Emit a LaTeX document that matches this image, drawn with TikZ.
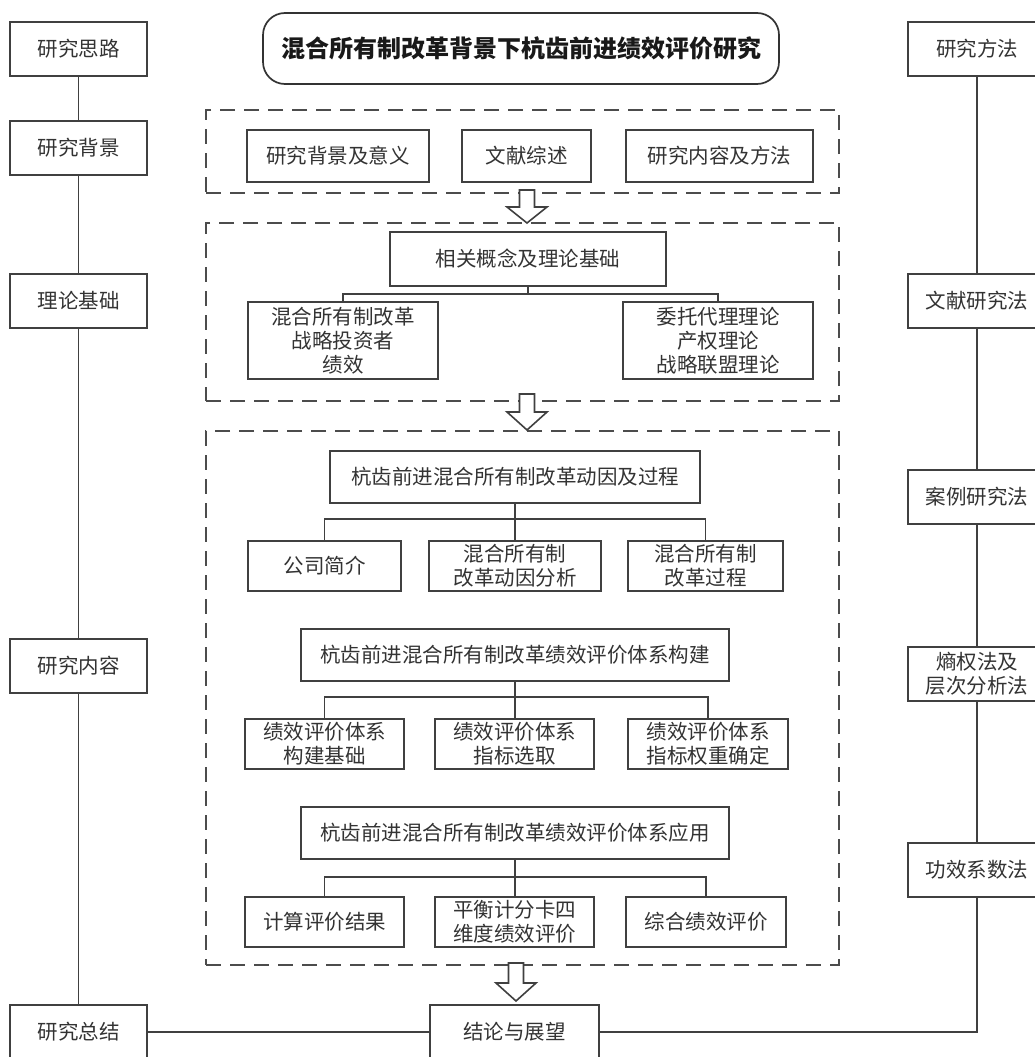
\documentclass[tikz,border=0pt]{standalone}
\usepackage{fontspec}
\setmainfont{Noto Sans CJK SC}
\begin{document}
\begin{tikzpicture}[x=1pt,y=-1pt,
  box/.style={draw=black!75,line width=1.7pt,fill=white,text=black!80,align=center,inner sep=0pt,
    font=\fontsize{20.5}{24}\selectfont},
  titlebox/.style={draw=black!80,line width=1.7pt,fill=white,rounded corners=22pt,inner sep=0pt,
    font=\fontsize{24}{28}\selectfont\bfseries,text=black!90},
  dashbox/.style={draw=black!70,line width=1.7pt,dash pattern=on 15pt off 9pt,inner sep=0pt},
  conn/.style={draw=black!75,line width=1.6pt},
  blockarr/.style={draw=black!75,line width=1.6pt,fill=white,line join=miter}]
\useasboundingbox (0,0) rectangle (1035,1057);
\clip (0,0) rectangle (1035,1057);
\fill[white] (0,0) rectangle (1035,1057);

% title
\node[titlebox,minimum width=516pt,minimum height=71pt] (T) at (521,48.5) {混合所有制改革背景下杭齿前进绩效评价研究};

% dashed groups
\node[dashbox,minimum width=633pt,minimum height=83pt] (D1) at (522.5,151.5) {};
\node[dashbox,minimum width=633pt,minimum height=178pt] (D2) at (522.5,312) {};
\node[dashbox,minimum width=633pt,minimum height=534pt] (D3) at (522.5,698) {};

% left column
\node[box,minimum width=137pt,minimum height=54pt] (L1) at (78.5,49) {研究思路};
\node[box,minimum width=137pt,minimum height=54pt] (L2) at (78.5,148) {研究背景};
\node[box,minimum width=137pt,minimum height=54pt] (L3) at (78.5,301) {理论基础};
\node[box,minimum width=137pt,minimum height=54pt] (L4) at (78.5,666) {研究内容};
\node[box,minimum width=137pt,minimum height=54pt] (L5) at (78.5,1032) {研究总结};

% right column
\node[box,minimum width=138pt,minimum height=54pt] (R1) at (977,49) {研究方法};
\node[box,minimum width=138pt,minimum height=54pt] (R2) at (977,301) {文献研究法};
\node[box,minimum width=138pt,minimum height=54pt] (R3) at (977,497) {案例研究法};
\node[box,minimum width=138pt,minimum height=54pt] (R4) at (977,674) {熵权法及\\层次分析法};
\node[box,minimum width=138pt,minimum height=54pt] (R5) at (977,870) {功效系数法};

% group 1
\node[box,minimum width=182pt,minimum height=52pt] (B1) at (338,156) {研究背景及意义};
\node[box,minimum width=129pt,minimum height=52pt] (B2) at (526.5,156) {文献综述};
\node[box,minimum width=187pt,minimum height=52pt] (B3) at (719.5,156) {研究内容及方法};

% group 2
\node[box,minimum width=276pt,minimum height=54pt] (C0) at (528,259) {相关概念及理论基础};
\node[box,minimum width=190pt,minimum height=77pt] (C1) at (343,340.5) {混合所有制改革\\战略投资者\\绩效};
\node[box,minimum width=190pt,minimum height=77pt] (C2) at (718,340.5) {委托代理理论\\产权理论\\战略联盟理论};

% group 3
\node[box,minimum width=370pt,minimum height=52pt] (P0) at (515,477) {杭齿前进混合所有制改革动因及过程};
\node[box,minimum width=153pt,minimum height=50pt] (P1) at (324.5,566) {公司简介};
\node[box,minimum width=172pt,minimum height=50pt] (P2) at (515,566) {混合所有制\\改革动因分析};
\node[box,minimum width=155pt,minimum height=50pt] (P3) at (705.5,566) {混合所有制\\改革过程};

\node[box,minimum width=428pt,minimum height=52pt] (Q0) at (515,655) {杭齿前进混合所有制改革绩效评价体系构建};
\node[box,minimum width=159pt,minimum height=50pt] (Q1) at (324.5,744) {绩效评价体系\\构建基础};
\node[box,minimum width=159pt,minimum height=50pt] (Q2) at (514.5,744) {绩效评价体系\\指标选取};
\node[box,minimum width=160pt,minimum height=50pt] (Q3) at (708,744) {绩效评价体系\\指标权重确定};

\node[box,minimum width=428pt,minimum height=52pt] (S0) at (515,833) {杭齿前进混合所有制改革绩效评价体系应用};
\node[box,minimum width=159pt,minimum height=50pt] (S1) at (324.5,922) {计算评价结果};
\node[box,minimum width=159pt,minimum height=50pt] (S2) at (514.5,922) {平衡计分卡四\\维度绩效评价};
\node[box,minimum width=160pt,minimum height=50pt] (S3) at (706,922) {综合绩效评价};

% conclusion
\node[box,minimum width=169pt,minimum height=54pt] (E) at (514.5,1032) {结论与展望};

% column connectors
\draw[conn] (L1.south) -- (L2.north);
\draw[conn] (L2.south) -- (L3.north);
\draw[conn] (L3.south) -- (L4.north);
\draw[conn] (L4.south) -- (L5.north);
\draw[conn] (R1.south) -- (R2.north);
\draw[conn] (R2.south) -- (R3.north);
\draw[conn] (R3.south) -- (R4.north);
\draw[conn] (R4.south) -- (R5.north);
\draw[conn] (L5.east) -- (E.west);
\draw[conn] (E.east) -| (R5.south);

% tree connectors
\coordinate (cj) at (528,294);
\draw[conn] (C0.south) -- (cj);
\draw[conn] (C1.north) -- (C1.north |- cj) -- (C2.north |- cj) -- (C2.north);

\coordinate (pj) at (515,519);
\draw[conn] (P0.south) -- (P2.north);
\draw[conn] (P1.north) -- (P1.north |- pj) -- (P3.north |- pj) -- (P3.north);

\coordinate (qj) at (515,697);
\draw[conn] (Q0.south) -- (Q2.north -| Q0.south);
\draw[conn] (Q1.north) -- (Q1.north |- qj) -- (Q3.north |- qj) -- (Q3.north);

\coordinate (sj) at (515,877);
\draw[conn] (S0.south) -- (S2.north -| S0.south);
\draw[conn] (S1.north) -- (S1.north |- sj) -- (S3.north |- sj) -- (S3.north);

% block arrows between groups
\newcommand\blockarrow[4]{% x, top, headstart, tip
  \draw[blockarr] ({#1-7.5},#2) -- ({#1+7.5},#2) -- ({#1+7.5},#3) -- ({#1+20},#3) -- (#1,#4)
    -- ({#1-20},#3) -- ({#1-7.5},#3) -- cycle;}
\coordinate (a1) at (D1.south -| C0.south);
\blockarrow{527}{190}{207}{223}
\blockarrow{527}{394}{412}{430}
\blockarrow{516}{963}{983}{1001}
\end{tikzpicture}
\end{document}
